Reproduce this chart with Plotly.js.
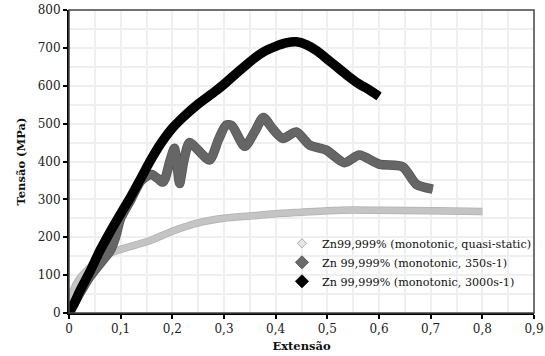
<!DOCTYPE html>
<html>
<head>
<meta charset="utf-8">
<script src="https://cdn.plot.ly/plotly-3.0.1.min.js"></script>
<style>
  html, body { margin: 0; padding: 0; background: #ffffff; }
  #chart { width: 545px; height: 356px; }
</style>
</head>
<body>
<div id="chart"></div>
<script>
// Tensile curves of pure zinc at three strain rates (strain vs stress, MPa)
const seriesNames = [
  'Zn99,999% (monotonic, quasi-static)',
  'Zn 99,999% (monotonic, 350s-1)',
  'Zn 99,999% (monotonic, 3000s-1)'
];

// quasi-static
const strainQS = [0, 0.005, 0.01, 0.02, 0.04, 0.06, 0.08, 0.1, 0.13, 0.16, 0.2, 0.25, 0.3, 0.35, 0.4, 0.45, 0.5, 0.55, 0.6, 0.7, 0.8];
const stressQS = [0, 40, 65, 90, 120, 145, 158, 168, 180, 193, 216, 238, 250, 256, 262, 266, 270, 272, 271, 270, 268];

// 350 s-1
const strain350 = [0, 0.02, 0.04, 0.06, 0.08, 0.09, 0.1, 0.12, 0.14, 0.16, 0.182, 0.195, 0.204, 0.21, 0.214, 0.222, 0.233, 0.25, 0.272, 0.29, 0.304, 0.315, 0.34, 0.36, 0.376, 0.395, 0.414, 0.44, 0.466, 0.498, 0.533, 0.562, 0.6, 0.646, 0.672, 0.704];
const stress350 = [0, 50, 95, 130, 165, 200, 250, 300, 350, 366, 346, 400, 435, 380, 342, 400, 450, 430, 404, 460, 496, 495, 440, 480, 516, 485, 461, 478, 443, 430, 397, 417, 393, 386, 340, 327];

// 3000 s-1
const strain3000 = [0, 0.01, 0.02, 0.04, 0.06, 0.08, 0.1, 0.12, 0.14, 0.16, 0.18, 0.2, 0.22, 0.25, 0.28, 0.3, 0.33, 0.36, 0.38, 0.4, 0.42, 0.44, 0.46, 0.48, 0.5, 0.52, 0.54, 0.56, 0.58, 0.6];
const stress3000 = [0, 25, 55, 108, 165, 215, 262, 308, 358, 408, 452, 488, 516, 552, 582, 604, 640, 674, 692, 704, 713, 716, 708, 692, 670, 648, 626, 606, 590, 572];

const xTickVals = [0, 0.1, 0.2, 0.3, 0.4, 0.5, 0.6, 0.7, 0.8, 0.9];
const xTickText = ['0', '0,1', '0,2', '0,3', '0,4', '0,5', '0,6', '0,7', '0,8', '0,9'];
const yTickVals = [0, 100, 200, 300, 400, 500, 600, 700, 800];

const serif = 'DejaVu Serif';

const curves = [
  { x: strainQS, y: stressQS, color: '#c4c4c4', edge: '#b0b0b0', w: 6, sym: 'diamond', size: 7, mline: '#a8a8a8', mfill: '#e6e6e6' },
  { x: strain350, y: stress350, color: '#666666', edge: '#555555', w: 8, sym: 'diamond', size: 10, mline: '#555555', mfill: '#6a6a6a' },
  { x: strain3000, y: stress3000, color: '#000000', edge: '#000000', w: 8, sym: 'diamond', size: 10, mline: '#000000', mfill: '#000000' }
];

const traces = [];
curves.forEach((c) => {
  // darker rim under the body of each curve
  traces.push({
    x: c.x, y: c.y, type: 'scatter', mode: 'lines',
    line: { color: c.edge, width: c.w + 1.5, shape: 'spline', smoothing: 0.7 },
    showlegend: false, hoverinfo: 'skip'
  });
  traces.push({
    x: c.x, y: c.y, type: 'scatter', mode: 'lines',
    line: { color: c.color, width: c.w, shape: 'spline', smoothing: 0.7 },
    showlegend: false, hoverinfo: 'skip'
  });
});
// legend entries (diamond markers)
curves.forEach((c, i) => {
  traces.push({
    x: [null], y: [null], type: 'scatter', mode: 'markers', name: seriesNames[i],
    marker: { symbol: c.sym, size: c.size, color: c.mfill, line: { color: c.mline, width: 1 } }
  });
});

const layout = {
  width: 545, height: 356,
  margin: { l: 69, r: 11, t: 10, b: 43, autoexpand: false },
  paper_bgcolor: '#ffffff', plot_bgcolor: '#ffffff',
  separators: ',.',
  font: { family: serif, size: 12, color: '#222222' },
  showlegend: true,
  legend: {
    x: 0.458, y: 0.278, xanchor: 'left', yanchor: 'top',
    bgcolor: 'rgba(0,0,0,0)', font: { family: serif, size: 11.2, color: '#111111' },
    itemwidth: 30, tracegroupgap: 0
  },
  xaxis: {
    range: [0, 0.9], tickvals: xTickVals, ticktext: xTickText,
    showgrid: true, gridcolor: '#efefef', gridwidth: 2,
    minor: { dtick: 0.05, showgrid: true, gridcolor: '#efefef', gridwidth: 2, ticks: '' },
    showline: true, linecolor: '#000000', linewidth: 2,
    ticks: 'outside', ticklen: 4, tickwidth: 2, tickcolor: '#000000',
    zeroline: false, fixedrange: true, automargin: false,
    tickfont: { family: serif, size: 12, color: '#222222' },
    title: { text: '<b>Extensão</b>', font: { family: serif, size: 11.5, color: '#111111' }, standoff: 7 }
  },
  yaxis: {
    range: [0, 800], tickvals: yTickVals,
    showgrid: true, gridcolor: '#efefef', gridwidth: 2,
    minor: { dtick: 50, showgrid: true, gridcolor: '#efefef', gridwidth: 2, ticks: '' },
    showline: true, linecolor: '#000000', linewidth: 2,
    ticks: 'outside', ticklen: 4, tickwidth: 2, tickcolor: '#000000',
    zeroline: false, fixedrange: true, automargin: false,
    tickfont: { family: serif, size: 12, color: '#222222' },
    title: { text: '<b>Tensão (MPa)</b>', font: { family: serif, size: 11.5, color: '#111111' }, standoff: 10 }
  },
  shapes: [{
    type: 'rect', xref: 'paper', yref: 'paper', x0: 0, x1: 1, y0: 0, y1: 1,
    line: { color: '#444444', width: 1.5 }, layer: 'above'
  }]
};

Plotly.newPlot('chart', traces, layout, { displayModeBar: false, staticPlot: true });
</script>
</body>
</html>
